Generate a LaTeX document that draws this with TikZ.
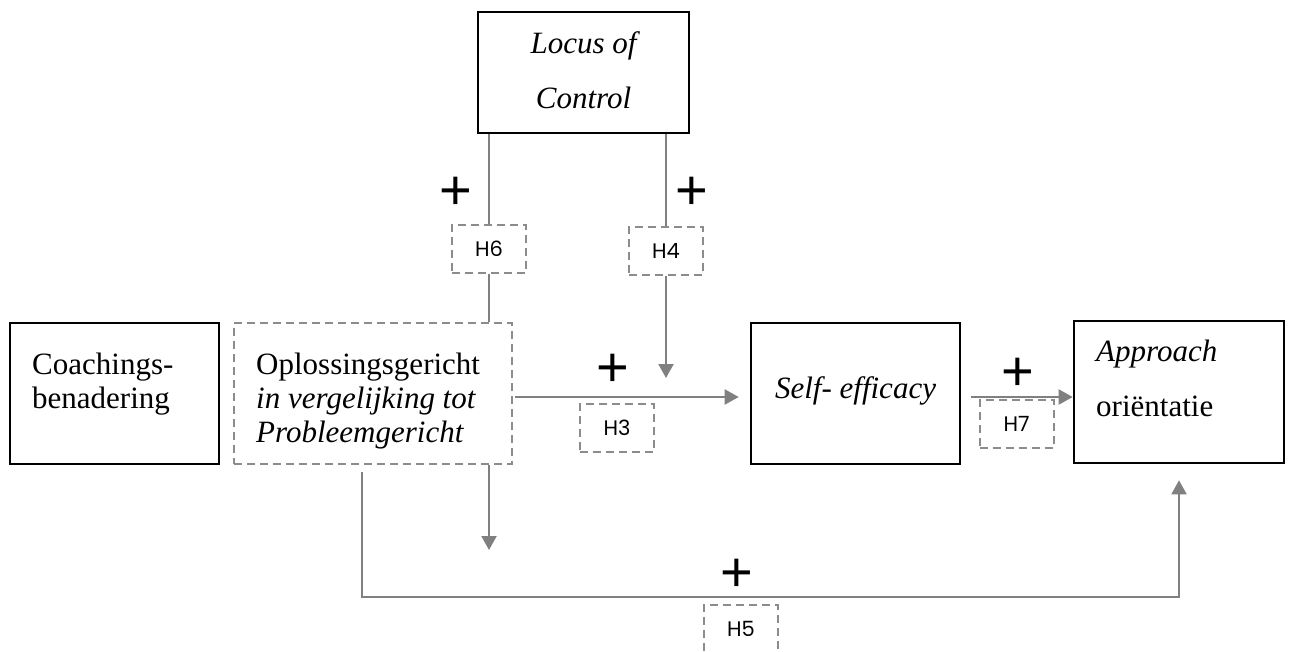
\documentclass[tikz,border=0pt]{standalone}
\usepackage{fontspec}
\setmainfont{Liberation Serif}
\newfontfamily\hfont{Poppins}
\newfontfamily\plusfont{Liberation Sans}
\usetikzlibrary{positioning, arrows.meta, calc}
\definecolor{linegray}{RGB}{128,128,128}
\definecolor{boxgray}{RGB}{140,140,140}

\begin{document}
\begin{tikzpicture}[x=1pt, y=-1pt]
	% stijlen
	\tikzset{
		mainbox/.style={
			draw, line width=2.6pt, inner sep=0pt
		},
		hypbox/.style={
			draw=boxgray, line width=2pt, dash pattern=on 8pt off 5pt,
			inner sep=0pt, minimum width=74pt, minimum height=48pt,
			font=\hfont\fontsize{21}{21}\selectfont
		},
		boxtext/.style={
			inner sep=0pt, font=\fontsize{31}{34}\selectfont
		},
		plus/.style={
			inner sep=0pt, font=\plusfont\fontsize{56}{56}\selectfont
		},
		link/.style={
			draw=linegray, line width=2pt
		},
		arrowlink/.style={
			link, -{Triangle[length=14pt, width=15pt]}
		}
	}
	\useasboundingbox (0,0) rectangle (1289,651);
	\clip (0,0) rectangle (1289,651);

	% variabelen
	\node[mainbox, minimum width=209pt, minimum height=141pt] (coach) at (114.5,393.5) {};
	\node[mainbox, draw=boxgray, line width=2pt, dash pattern=on 8pt off 5pt,
		minimum width=278pt, minimum height=141pt] (opl) at (373,393.5) {};
	\node[mainbox, minimum width=211pt, minimum height=121pt] (loc) at (583.5,72.5) {};
	\node[mainbox, minimum width=209pt, minimum height=141pt] (self) at (855.5,393.5) {};
	\node[mainbox, minimum width=210pt, minimum height=142pt] (appr) at (1179,392) {};

	% teksten in de vakken
	\node[boxtext, anchor=north west, align=left] (coachtxt) at (32,352.5) {Coachings-\\benadering};
	\node[boxtext, anchor=north west, align=left] (opltxt) at (256,352.5)
		{Oplossingsgericht\\\itshape in vergelijking tot\\\itshape Probleemgericht};
	\node[boxtext, anchor=north, align=center, font=\fontsize{31}{55}\selectfont\itshape]
		(loctxt) at (583.5,31.5) {Locus of\\Control};
	\node[boxtext, anchor=base, font=\fontsize{31}{34}\selectfont\itshape] (selftxt) at (855.5,398) {Self- efficacy};
	\node[boxtext, anchor=north west, align=left, font=\fontsize{31}{55}\selectfont]
		(apprtxt) at (1096,339.5) {\itshape Approach\\ori\"entatie};

	% hypothesen
	\node[hypbox] (h6) at (489,248.5) {H6};
	\node[hypbox] (h4) at (666,251) {H4};
	\node[hypbox] (h3) at (617,427.5) {H3};
	\node[hypbox] (h7) at (1016.5,424) {H7};
	\node[hypbox] (h5) at (741,628.5) {H5};

	% plustekens
	\node[plus] (p6) at (456,193) {+};
	\node[plus] (p4) at (692,193) {+};
	\node[plus] (p3) at (613,370) {+};
	\node[plus] (p7) at (1018,374) {+};
	\node[plus] (p5) at (737,575) {+};

	% pijlen
	\coordinate (h4tip) at (666,378);
	\coordinate (opltip) at (489,550);
	\coordinate (h5from) at (362,472);
	\coordinate (h5corner) at (1179,597);

	\draw[link] (loc.south -| h6.north) -- (h6.north);
	\draw[link] (h6.south) -- (h6.south |- opl.north);
	\draw[link] (loc.south -| h4.north) -- (h4.north);
	\draw[arrowlink] (h4.south) -- (h4tip);
	\draw[arrowlink, shorten <=2pt, shorten >=11pt] ([yshift=-3.5pt]opl.east) -- ([yshift=-3.5pt]self.west);
	\draw[arrowlink, shorten <=10pt] ([yshift=-3.5pt]self.east) -- ([yshift=-3.5pt]self.east -| appr.west);
	\draw[arrowlink] (opl.south -| h6.south) -- (opltip);
	\draw[arrowlink, shorten >=16pt] (h5from) |- (h5corner) -- (appr.south);
\end{tikzpicture}
\end{document}
